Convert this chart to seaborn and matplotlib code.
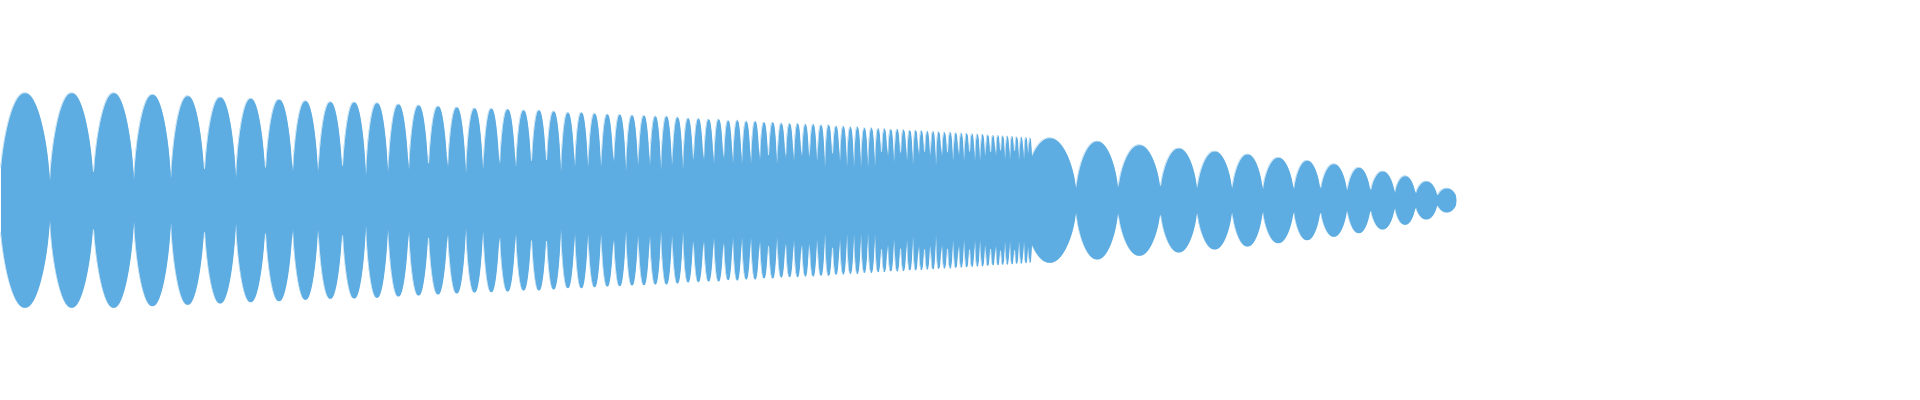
import numpy as np
import pandas as pd
import matplotlib
matplotlib.use("Agg")
import matplotlib.pyplot as plt
import seaborn as sns

# ---- data (time axis in px-like units, amplitude in px-like units) ----
# Segment 1: accelerating chirp, lobe centres and peak amplitudes
seg1_centers = [27, 72, 114, 153, 188, 220, 251, 279, 305.5, 330, 354, 377,
                398.3, 418.3, 437.7, 456.7, 474.3, 491, 507.3, 523.3, 538.7, 553.3, 567.7,
                581, 594.3, 607, 619.3, 631.7, 643.7, 655, 666, 677.3, 687.7, 698, 708.3, 718.3, 728,
                736.7, 746, 754.7, 763.7, 772.3, 781, 789.3, 797.3, 805, 812.7, 820.7, 828.3,
                835.7, 843, 850, 857, 864, 871, 878,
                884, 890.3, 897, 903, 909.7, 915.3, 921, 927, 932.7, 938.3, 944, 950, 955.3,
                961, 966.3, 971.7, 977, 982.3, 987.3, 992.7, 997.7, 1002.3, 1007, 1011.7,
                1016.3, 1021, 1025.7, 1030]
seg1_amps = [107.3, 107.3, 107.3, 105.7, 104.3, 103, 101.7, 100.7, 99.3, 98.3, 98, 97.3,
             96, 95, 94, 93, 92, 91.7, 91, 90, 90, 89, 87.7,
             87.7, 86.7, 86, 85.7, 85, 84.7, 84, 84, 83, 82, 81.7, 81, 81, 79.7,
             80, 79, 79, 78, 78, 77, 76.7, 76.7, 76, 76, 75.3, 75.3,
             74.3, 74, 73.3, 73.3, 72.3, 72.3, 71.7,
             71.5, 71, 71, 70.5, 70, 70, 69.5, 69, 69, 68.5, 68, 68, 67.5,
             67, 67, 66.5, 66, 66, 65.5, 65, 65, 64.5, 64, 64,
             63.5, 63, 63, 62.5]
seg1_start = -0.5
seg_split = 1031.5

# Segment 2: slow decaying lobes, lobe edges and peak amplitudes
seg2_edges = [1023, 1075.7, 1117.7, 1160, 1196.7, 1231.7, 1262.3, 1293.3,
              1320, 1346.7, 1370, 1394.3, 1415, 1436.7, 1456]
seg2_amps = [62.3, 59, 55.3, 52, 49, 46, 42.7, 39.7, 36.3, 32.7, 29, 24.3, 19, 12]

COLOR = "#5DADE2"

# ---- build the per-column peak envelope (waveform-style rendering) ----
c1 = np.asarray(seg1_centers, float)
e1 = np.concatenate([[seg1_start], (c1[:-1] + c1[1:]) / 2, [seg_split]])
a1 = np.asarray(seg1_amps, float)
e2 = np.asarray(seg2_edges, float)
a2 = np.asarray(seg2_amps, float)


def lobe_value(x):
    x = np.asarray(x, float)
    out = np.zeros_like(x)
    for edges, amps, mask in ((e1, a1, x < seg_split), (e2, a2, x >= seg_split)):
        xs = x[mask]
        k = np.clip(np.searchsorted(edges, xs, side="right") - 1, 0, len(amps) - 1)
        u = np.clip((xs - edges[k]) / (edges[k + 1] - edges[k]), 0, 1)
        out[mask] = amps[k] * np.sqrt(np.clip(np.sin(np.pi * u), 0, None))
    out[x > e2[-1]] = 0.0
    return out


n_cols = int(np.ceil(e2[-1]))
sub = 16
xs = (np.arange(n_cols)[:, None] + (np.arange(sub)[None, :] + 0.5) / sub).ravel()
peaks = lobe_value(xs).reshape(n_cols, sub).max(axis=1)
t = np.arange(n_cols) + 0.5
t = np.concatenate([t, [e2[-1]]])
peaks = np.concatenate([peaks, [0.0]])

df = pd.DataFrame({"t": t, "upper": peaks, "lower": -peaks})

# ---- draw ----
sns.set_theme(style="white")
fig = plt.figure(figsize=(19.2, 4.0), dpi=100)
ax = fig.add_axes([0, 0, 1, 1])
ax.fill_between(df["t"], df["lower"], df["upper"], color=COLOR, linewidth=0)
sns.lineplot(data=df, x="t", y="upper", ax=ax, color=COLOR, linewidth=0.2)
sns.lineplot(data=df, x="t", y="lower", ax=ax, color=COLOR, linewidth=0.2)
ax.set_xlim(0, 1920)
ax.set_ylim(-200, 200)
ax.axis("off")
fig.savefig("out.png", dpi=100, facecolor="white")
